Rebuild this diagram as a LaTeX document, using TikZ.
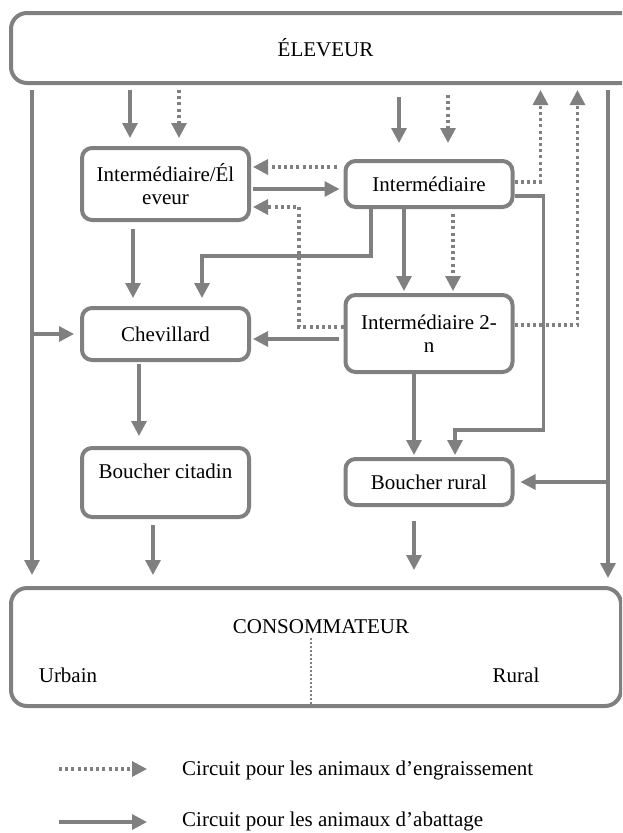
\documentclass[tikz,border=0pt]{standalone}
\usepackage{fontspec}
\setmainfont{Liberation Serif}
\usepackage{tikz}
\usetikzlibrary{arrows.meta, positioning, calc}

\definecolor{trait}{RGB}{128,128,128}

\begin{document}
\begin{tikzpicture}[x=1pt, y=-1pt,
    every node/.style={font=\fontsize{21}{23}\selectfont, inner sep=0pt},
    boite/.style={draw=trait, line width=4pt, rounded corners=10pt, minimum width=167pt, align=center},
    grandeboite/.style={draw=trait, line width=4pt, rounded corners=16pt},
    abattage/.style={draw=trait, line width=3.2pt, -{Triangle[length=15pt,width=15pt]}},
    engrais/.style={draw=trait, line width=3.2pt, dash pattern=on 3pt off 3.2pt, -{Triangle[length=15pt,width=15pt]}}]
    \clip (0,0) rectangle (622,833);

    % Acteurs
    \node[grandeboite, minimum width=629pt, minimum height=70pt] (eleveur) at (325.5,48) {\raisebox{-4pt}{ÉLEVEUR}};
    \node[boite, minimum height=72pt] (ie) at (165.5,184) {Intermédiaire/Él\\eveur};
    \node[boite, minimum height=46pt] (inter) at (429,184) {Intermédiaire};
    \node[boite, minimum height=52pt] (chev) at (165.5,334) {Chevillard};
    \node[boite, minimum height=77pt] (inter2) at (429,333.5) {Intermédiaire 2-\\n};
    \node[boite, minimum height=69pt] (bcit) at (165.5,482.5) {Boucher citadin\\\mbox{}};
    \node[boite, minimum height=46pt] (brur) at (429,482) {Boucher rural};

    % Consommateur
    \node[grandeboite, minimum width=610pt, minimum height=118pt] (conso) at (316,647) {};
    \node (tconso) at (321,627) {CONSOMMATEUR};
    \node (urbain) at (68,675) {Urbain};
    \node (rural) at (516,675) {Rural};
    \draw[trait, line width=1.6pt, dash pattern=on 2pt off 2pt] ([xshift=-5pt]conso.south) -- ++(0,-71);

    % Circuits directs eleveur -> consommateur
    \draw[abattage, shorten <=5pt, shorten >=11pt] ([xshift=23pt]eleveur.south west) -- ([xshift=23pt]conso.north west);
    \draw[abattage, shorten >=6pt] ([xshift=23pt]eleveur.south west |- chev.west) -- (chev.west);
    \draw[abattage, shorten <=5pt, shorten >=8pt] ([xshift=-15pt]conso.north east |- eleveur.south) -- ([xshift=-15pt]conso.north east);
    \draw[abattage, shorten >=6pt] ([xshift=-15pt]conso.north east |- brur.east) -- (brur.east);

    % Eleveur -> intermediaires
    \draw[abattage, shorten <=5pt, shorten >=8pt] ([xshift=-35.5pt]ie.north |- eleveur.south) -- ([xshift=-35.5pt]ie.north);
    \draw[engrais, shorten <=5pt, shorten >=8pt] ([xshift=13.5pt]ie.north |- eleveur.south) -- ([xshift=13.5pt]ie.north);
    \draw[abattage, shorten <=12pt, shorten >=16pt] ([xshift=-30pt]inter.north |- eleveur.south) -- ([xshift=-30pt]inter.north);
    \draw[engrais, shorten <=10pt, shorten >=16pt] ([xshift=19pt]inter.north |- eleveur.south) -- ([xshift=19pt]inter.north);

    % Retours vers l'eleveur
    \draw[engrais, shorten >=5pt] ([yshift=2pt]inter.east) -| ([xshift=26pt]inter.east |- eleveur.south);
    \draw[engrais, shorten >=5pt] ([yshift=8.5pt]inter2.east) -| ([xshift=63pt]inter2.east |- eleveur.south);

    % Echanges entre intermediaires
    \draw[engrais, shorten <=7pt, shorten >=2pt] ([yshift=17pt]inter.west) -- ([yshift=17pt]inter.west -| ie.east);
    \draw[abattage, shorten <=2pt, shorten >=4pt] ([yshift=-5pt]ie.east) -- ([yshift=-5pt]ie.east -| inter.west);
    \draw[engrais, shorten >=2pt] ([yshift=6.5pt]inter2.west) -| ([xshift=48pt,yshift=-23pt]ie.east) -- ([yshift=-23pt]ie.east);
    \draw[abattage, shorten >=2pt] ([xshift=-25pt]inter.south) -- ([xshift=-25pt]inter2.north);
    \draw[engrais, shorten <=5pt, shorten >=2pt] ([xshift=24pt]inter.south) -- ([xshift=24pt]inter2.north);

    % Vers chevillard et bouchers
    \draw[abattage, shorten <=7pt, shorten >=8pt] ([xshift=-32.5pt]ie.south) -- ([xshift=-32.5pt]chev.north);
    \draw[abattage, shorten >=8pt] ([xshift=-58pt]inter.south) -- ++(0,47) -| ([xshift=36.5pt]chev.north);
    \draw[abattage, shorten <=5pt, shorten >=2pt] ([yshift=-5.5pt]inter2.west) -- ([yshift=-5.5pt]inter2.west -| chev.east);
    \draw[abattage, shorten <=2pt, shorten >=10pt] ([xshift=-26.5pt]chev.south) -- ([xshift=-26.5pt]bcit.north);
    \draw[abattage, shorten >=2pt] ([yshift=-12pt]inter.east) -- ++(29,0) -- ++(0,234) -| ([xshift=26pt]brur.north);
    \draw[abattage, shorten >=2pt] ([xshift=-15pt]inter2.south) -- ([xshift=-15pt]brur.north);

    % Bouchers -> consommateur
    \draw[abattage, shorten <=6pt, shorten >=11pt] ([xshift=-12.5pt]bcit.south) -- ([xshift=-12.5pt]bcit.south |- conso.north);
    \draw[abattage, shorten <=14pt, shorten >=16pt] ([xshift=-15pt]brur.south) -- ([xshift=-15pt]brur.south |- conso.north);

    % Legende
    \node[anchor=base west] (leg1) at (182,775) {Circuit pour les animaux d’engraissement};
    \node[anchor=base west] (leg2) at (182,826) {Circuit pour les animaux d’abattage};
    \coordinate (d1) at (59,769);
    \coordinate (d2) at (59,822);
    \draw[engrais, shorten >=35pt] (d1) -- (d1 -| leg1.west);
    \draw[abattage, shorten >=35pt] (d2) -- (d2 -| leg2.west);
\end{tikzpicture}
\end{document}
